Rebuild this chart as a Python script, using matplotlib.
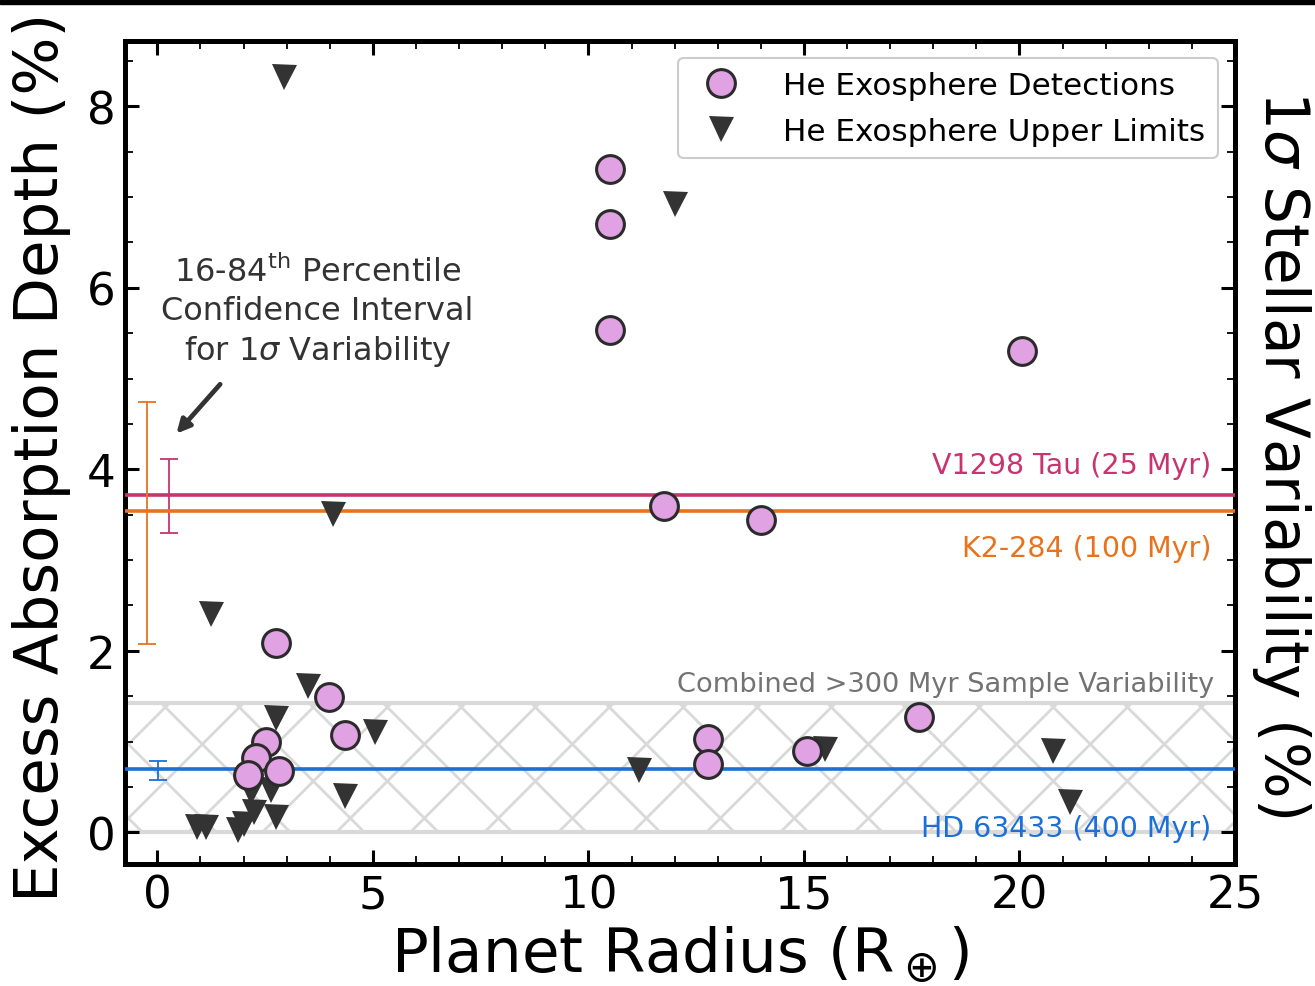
import matplotlib
matplotlib.use("Agg")
import matplotlib.pyplot as plt
from matplotlib.patches import Rectangle
import numpy as np

# Helium exosphere detections (planet radius in Earth radii, excess absorption %)
det_radius = [10.49, 10.49, 10.49, 20.05, 11.76, 14.01, 2.76, 3.99, 4.36,
              17.66, 12.78, 12.78, 15.06, 2.53, 2.30, 2.11, 2.83]
det_depth = [7.31, 6.70, 5.53, 5.30, 3.59, 3.44, 2.09, 1.49, 1.07,
             1.27, 1.03, 0.75, 0.90, 1.00, 0.82, 0.63, 0.67]

# Helium exosphere upper limits
ul_radius = [2.95, 12.00, 4.08, 1.25, 3.50, 2.76, 5.06, 4.36, 0.93, 1.12,
             1.86, 2.02, 2.25, 2.76, 2.18, 2.64, 11.18, 15.48, 20.77, 21.18]
ul_depth = [8.32, 6.92, 3.51, 2.40, 1.61, 1.26, 1.10, 0.40, 0.06, 0.06,
            0.03, 0.09, 0.22, 0.17, 0.44, 0.47, 0.69, 0.92, 0.89, 0.33]

# 1-sigma stellar variability for the young comparison stars
star_names = ["V1298 Tau (25 Myr)", "K2-284 (100 Myr)", "HD 63433 (400 Myr)"]
star_sigma = [3.72, 3.54, 0.70]
star_lo = [3.30, 2.08, 0.58]
star_hi = [4.11, 4.74, 0.79]
star_xpos = [0.26, -0.23, 0.02]
star_colors = ["#c8346f", "#e8731c", "#1c6fd6"]

# Combined >300 Myr sample variability band
band_low, band_high = 0.0, 1.42

fig = plt.figure(figsize=(13.15, 9.87), dpi=100)
ax = fig.add_axes([125 / 1315, 122 / 987, 1110 / 1315, 823 / 987])
ax.set_xlim(-0.75, 25)
ax.set_ylim(-0.35, 8.72)

# Hatched band drawn as 45-degree lines
sx = ax.transData.transform((1, 0))[0] - ax.transData.transform((0, 0))[0]
sy = ax.transData.transform((0, 1))[1] - ax.transData.transform((0, 0))[1]
dx = 74.0 / sx
run = (band_high - band_low) * sy / sx
hatch_col = "#d9d9d9"
for k in range(-3, 20):
    x0 = 1.37 + k * dx
    ax.plot([x0, x0 - run], [band_low, band_high], color=hatch_col, lw=2.0, zorder=1)
    x1 = 0.72 + k * dx
    ax.plot([x1, x1 + run], [band_low, band_high], color=hatch_col, lw=2.0, zorder=1)
ax.axhline(band_low, color=hatch_col, lw=3.0, zorder=1.5)
ax.axhline(band_high, color=hatch_col, lw=3.0, zorder=1.5)
ax.text(24.52, band_high + 0.07, "Combined >300 Myr Sample Variability",
        color="#737373", fontsize=19.6, ha="right", va="bottom", zorder=2)

# Stellar variability lines with their confidence intervals
label_y = [3.72 + 0.17, 3.54 - 0.25, 0.70 - 0.50]
label_va = ["bottom", "top", "top"]
for name, s, lo, hi, xp, c, ly, va in zip(star_names, star_sigma, star_lo, star_hi,
                                          star_xpos, star_colors, label_y, label_va):
    ax.axhline(s, color=c, lw=2.6, zorder=3)
    ax.errorbar([xp], [s], yerr=[[s - lo], [hi - s]], fmt="none", ecolor=c,
                elinewidth=1.3, capsize=6.5, capthick=1.3, zorder=3)
    ax.text(24.45, ly, name, color=c, fontsize=20.5, ha="right", va=va, zorder=3)

# Planet measurements
ax.plot(ul_radius, ul_depth, linestyle="none", marker="v", markersize=18,
        color="#333333", markeredgewidth=0, zorder=5, label="He Exosphere Upper Limits")
ax.plot(det_radius, det_depth, linestyle="none", marker="o", markersize=20,
        markerfacecolor="#e0a2e2", markeredgecolor="#2b2b2b", markeredgewidth=2.2,
        zorder=6, label="He Exosphere Detections")

# Annotation for the error bars
ax.annotate("", xy=(0.40, 4.37), xytext=(1.50, 4.96),
            arrowprops=dict(arrowstyle="-|>,head_width=0.4,head_length=0.8",
                            color="#333333", lw=3.4), zorder=4)
ax.text(3.72, 5.74, "16-84$^{\\mathrm{th}}$ Percentile\nConfidence Interval\nfor 1$\\sigma$ Variability",
        color="#333333", fontsize=23, ha="center", va="center", linespacing=1.28)

handles, labels = ax.get_legend_handles_labels()
leg = ax.legend(handles[::-1], labels[::-1], loc="upper right", fontsize=22.4,
                frameon=True, fancybox=True, edgecolor="#cccccc", framealpha=1.0,
                borderaxespad=0.55, handletextpad=1.0, borderpad=0.4,
                labelspacing=0.55)
leg.get_frame().set_linewidth(1.5)

# Axes styling
ax.set_xticks([0, 5, 10, 15, 20, 25])
ax.set_yticks([0, 2, 4, 6, 8])
ax.set_xticks(np.arange(-0, 25.01, 1), minor=True)
ax.set_yticks(np.arange(0, 8.51, 0.5), minor=True)
ax.tick_params(which="both", direction="in", top=True, right=True, labelsize=32.5,
               colors="black")
ax.tick_params(which="major", length=10, width=2.2, pad=7)
ax.tick_params(which="minor", length=6, width=1.3)
for sp in ax.spines.values():
    sp.set_linewidth(3.6)

ax.text(-0.075, 0.495, "Excess Absorption Depth (%)", transform=ax.transAxes,
        rotation=90, ha="center", va="center", fontsize=44)
ax.text(1.042, 0.5, "1$\\sigma$ Stellar Variability (%)", transform=ax.transAxes,
        rotation=270, ha="center", va="center", fontsize=43)
ax.text(0.5, -0.11, "Planet Radius (R$_\\oplus$)", transform=ax.transAxes,
        ha="center", va="center", fontsize=44)

# Dark strip along the top edge
fig.patches.append(Rectangle((0, 1 - 5 / 987), 1, 5 / 987, transform=fig.transFigure,
                             color="black", zorder=10))

fig.savefig("out.png", dpi=100)
